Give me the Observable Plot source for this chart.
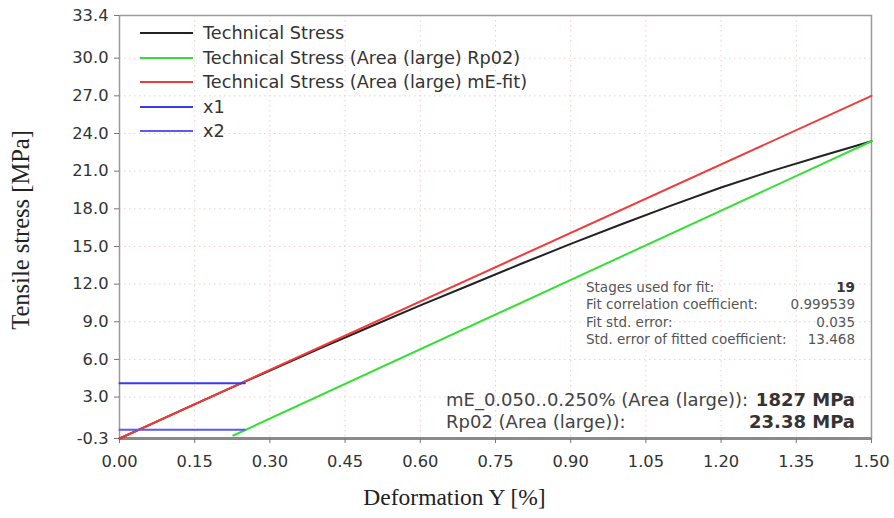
<!DOCTYPE html>
<html>
<head>
<meta charset="utf-8">
<script src="https://cdn.jsdelivr.net/npm/d3@7"></script>
<script src="https://cdn.jsdelivr.net/npm/@observablehq/plot@0.6"></script>
<style>
  html, body { margin: 0; padding: 0; background: #fff; }
  #wrap { position: relative; width: 894px; height: 518px; font-family: "DejaVu Sans", Verdana, sans-serif; color: #333; }
  .leg { position: absolute; left: 0; top: 0; }
  .row { position: absolute; left: 140px; height: 20px; display: flex; align-items: center; white-space: nowrap; font-size: 17.7px; color: #333; }
  .row .sw { width: 53px; height: 2px; margin-right: 10px; }
  .info { position: absolute; white-space: nowrap; }
  .small { font-size: 13.5px; color: #555; }
  .big { font-size: 18px; color: #444; }
  .val { position: absolute; right: 39px; text-align: right; }
</style>
</head>
<body>
<div id="wrap"></div>
<script>
// ---- data ----
const xTicks = [0, 0.15, 0.30, 0.45, 0.60, 0.75, 0.90, 1.05, 1.20, 1.35, 1.50];
const yTicks = [-0.3, 3, 6, 9, 12, 15, 18, 21, 24, 27, 30, 33.4];

// Technical Stress (measured curve)
const stressX = [0, 0.05, 0.1, 0.2, 0.3, 0.4, 0.5, 0.6, 0.7, 0.8, 0.9, 1.0, 1.1, 1.2, 1.3, 1.4, 1.5];
const stressY = [-0.3, 0.6, 1.52, 3.33, 5.12, 6.88, 8.6, 10.3, 11.95, 13.6, 15.2, 16.75, 18.25, 19.7, 21.0, 22.2, 23.38];

// Rp02 offset line (green)
const rp02X = [0.227, 1.5];
const rp02Y = [-0.06, 23.38];

// mE-fit line (red)
const fitX = [0, 1.5];
const fitY = [-0.3, 27.0];

// x1 / x2 horizontal markers (blue)
const x1X = [0, 0.25];
const x1Y = [4.1, 4.1];
const x2X = [0, 0.25];
const x2Y = [0.4, 0.4];

const legendLabels = ["Technical Stress", "Technical Stress (Area (large) Rp02)", "Technical Stress (Area (large) mE-fit)", "x1", "x2"];
const legendColors = ["#222222", "#33e033", "#f23a3a", "#3a3af0", "#5a5af0"];

const infoLabels = ["Stages used for fit:", "Fit correlation coefficient:", "Fit std. error:", "Std. error of fitted coefficient:"];
const infoValues = ["19", "0.999539", "0.035", "13.468"];
const resultLabels = ["mE_0.050..0.250% (Area (large)):", "Rp02 (Area (large)):"];
const resultValues = ["1827 MPa", "23.38 MPa"];

const xTitle = "Deformation Y [%]";
const yTitle = "Tensile stress [MPa]";

// ---- build ----
const toPts = (xs, ys) => xs.map((x, i) => ({x, y: ys[i]}));
const series = [
  {pts: toPts(stressX, stressY), color: legendColors[0]},
  {pts: toPts(rp02X, rp02Y), color: legendColors[1]},
  {pts: toPts(fitX, fitY), color: legendColors[2]},
  {pts: toPts(x1X, x1Y), color: legendColors[3]},
  {pts: toPts(x2X, x2Y), color: legendColors[4]}
];

const gridColor = "#f2cccc";
const serif = "Liberation Serif, Times New Roman, serif";
const plot = Plot.plot({
  width: 894,
  height: 518,
  marginLeft: 119,
  marginRight: 23,
  marginTop: 15,
  marginBottom: 80,
  style: {fontFamily: "DejaVu Sans, Verdana, sans-serif", fontSize: "16.3px", color: "#333", background: "#fff"},
  x: {domain: [0, 1.5]},
  y: {domain: [-0.3, 33.4]},
  marks: [
    Plot.ruleX(xTicks.slice(1, -1), {stroke: gridColor, strokeDasharray: "1.5,3.5", strokeWidth: 1}),
    Plot.ruleY(yTicks.slice(1, -1), {stroke: gridColor, strokeDasharray: "1.5,3.5", strokeWidth: 1}),
    Plot.frame({stroke: "#9a9a9a", strokeWidth: 1.5}),
    Plot.ruleY([-0.3], {stroke: "#8a8a8a", strokeWidth: 3}),
    Plot.axisX({ticks: xTicks, tickFormat: d => d.toFixed(2), tickSize: 5, tickPadding: 12, label: null, stroke: "#777", fill: "#333"}),
    Plot.axisY({ticks: yTicks, tickFormat: d => d.toFixed(1), tickSize: 5, tickPadding: 6, label: null, stroke: "#777", fill: "#333"}),
    ...series.map(s => Plot.line(s.pts, {x: "x", y: "y", stroke: s.color, strokeWidth: 2})),
    Plot.text([xTitle], {frameAnchor: "bottom", dx: -41, dy: 66, text: d => d, fontFamily: serif, fontSize: 23.5, fill: "#222"}),
    Plot.text([yTitle], {frameAnchor: "left", textAnchor: "middle", dx: -98, dy: 3, rotate: -90, text: d => d, fontFamily: serif, fontSize: 24.5, fill: "#222"})
  ]
});

const wrap = document.getElementById("wrap");
wrap.appendChild(plot);

// legend overlay
const leg = document.createElement("div");
leg.className = "leg";
const legTops = [23, 48, 72, 97, 121];
legendLabels.forEach((t, i) => {
  const r = document.createElement("div");
  r.className = "row";
  r.style.top = legTops[i] + "px";
  const sw = document.createElement("span");
  sw.className = "sw";
  sw.style.background = legendColors[i];
  const tx = document.createElement("span");
  tx.textContent = t;
  r.appendChild(sw); r.appendChild(tx);
  leg.appendChild(r);
});
wrap.appendChild(leg);

// info overlay
const smallTops = [279, 296, 314, 331];
infoLabels.forEach((t, i) => {
  const l = document.createElement("div");
  l.className = "info small";
  l.style.left = "586px"; l.style.top = smallTops[i] + "px";
  l.textContent = t;
  wrap.appendChild(l);
  const v = document.createElement("div");
  v.className = "info small val";
  v.style.top = smallTops[i] + "px";
  if (i === 0) { v.style.fontWeight = "bold"; v.style.color = "#333"; }
  v.textContent = infoValues[i];
  wrap.appendChild(v);
});
const bigTops = [389, 411];
resultLabels.forEach((t, i) => {
  const l = document.createElement("div");
  l.className = "info big";
  l.style.left = "446px"; l.style.top = bigTops[i] + "px";
  l.textContent = t;
  wrap.appendChild(l);
  const v = document.createElement("div");
  v.className = "info big val";
  v.style.top = bigTops[i] + "px";
  v.style.fontWeight = "bold";
  v.style.color = "#333";
  v.textContent = resultValues[i];
  wrap.appendChild(v);
});
</script>
</body>
</html>
